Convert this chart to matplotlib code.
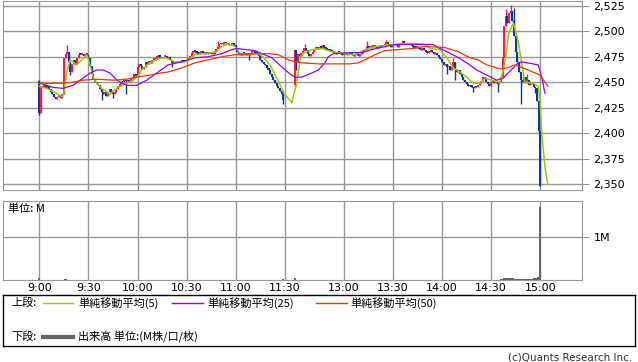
import numpy as np
import matplotlib.pyplot as plt
from matplotlib.lines import Line2D

# minute index: 9:00 = 0, 11:30 = 150, 12:30 = 156, 15:00 = 306
tick_pos = [0, 30, 60, 90, 120, 150, 186, 216, 246, 276, 306]
tick_labels = ['9:00', '9:30', '10:00', '10:30', '11:00', '11:30',
               '13:00', '13:30', '14:00', '14:30', '15:00']

price_ticks = [2350, 2375, 2400, 2425, 2450, 2475, 2500, 2525]

# morning session closes (9:00 - 11:29)
am_open0 = 2451
am_close = [2420, 2446, 2445, 2447, 2444, 2446, 2443, 2440, 2438, 2436,
            2434, 2436, 2437, 2435, 2438, 2474, 2478, 2480, 2470, 2460,
            2468, 2472, 2468, 2474, 2477, 2477, 2478, 2476, 2478, 2477,
            2474, 2466, 2458, 2453, 2450, 2448, 2447, 2443, 2440, 2438,
            2440, 2437, 2440, 2443, 2440, 2438, 2440, 2443, 2446, 2448,
            2450, 2450, 2452, 2451, 2452, 2450, 2453, 2455, 2458, 2456,
            2465, 2468, 2466, 2463, 2465, 2470, 2468, 2471, 2469, 2472,
            2474, 2473, 2476, 2475, 2475, 2474, 2475, 2476, 2474, 2475,
            2472, 2469, 2470, 2471, 2470, 2471, 2470, 2472, 2471, 2471,
            2472, 2474, 2476, 2479, 2481, 2480, 2479, 2478, 2479, 2480,
            2479, 2478, 2479, 2478, 2478, 2479, 2478, 2480, 2483, 2485,
            2487, 2488, 2487, 2489, 2488, 2487, 2486, 2487, 2488, 2486,
            2484, 2480, 2478, 2477, 2479, 2478, 2477, 2478, 2477, 2479,
            2480, 2481, 2479, 2478, 2476, 2472, 2470, 2468, 2467, 2464,
            2462, 2458, 2455, 2452, 2449, 2446, 2444, 2441, 2438, 2433]

# afternoon session closes (12:30 - 15:00)
pm_open0 = 2447
pm_close = [2482, 2470, 2478, 2476, 2479, 2481, 2484, 2482, 2478, 2476,
            2478, 2480, 2483, 2484, 2483, 2485, 2484, 2486, 2484, 2483,
            2482, 2481, 2482, 2480, 2479, 2478, 2480, 2479, 2478, 2477,
            2478, 2479, 2477, 2478, 2478, 2477, 2476, 2478, 2477, 2476,
            2478, 2479, 2481, 2482, 2485, 2484, 2485, 2484, 2486, 2485,
            2484, 2485, 2486, 2485, 2485, 2487, 2489, 2487, 2486, 2485,
            2486, 2487, 2486, 2485, 2487, 2488, 2490, 2488, 2487, 2488,
            2487, 2486, 2485, 2484, 2484, 2485, 2483, 2482, 2483, 2482,
            2480, 2479, 2480, 2481, 2480, 2478, 2479, 2477, 2475, 2473,
            2470, 2467, 2468, 2465, 2466, 2462, 2465, 2470, 2463, 2460,
            2462, 2458, 2455, 2452, 2450, 2448, 2446, 2447, 2445, 2444,
            2446, 2445, 2447, 2449, 2451, 2455, 2453, 2450, 2448, 2446,
            2450, 2452, 2449, 2450, 2448, 2450, 2455, 2475, 2505, 2515,
            2508, 2518, 2520, 2510, 2495, 2480, 2470, 2460, 2452, 2450,
            2455, 2449, 2452, 2447, 2449, 2448, 2445, 2444, 2432, 2402,
            2348]

# wicks beyond the candle body
high_wick_min = [0, 17, 109, 162, 200, 212, 253, 285, 288, 290, 298]
high_wick_val = [2452, 2486, 2490, 2487, 2490, 2491, 2474, 2522, 2526, 2523, 2458]
low_wick_min = [0, 19, 38, 45, 53, 81, 128, 149, 156, 157, 249, 254, 265, 280, 294, 303]
low_wick_val = [2418, 2457, 2433, 2435, 2438, 2465, 2472, 2429, 2445, 2462,
                2458, 2452, 2440, 2440, 2429, 2439]

# moving averages (minute, price)
ma5_min = [0, 4.5, 9.6, 13.7, 14.7, 16.7, 18.8, 22.8, 25.9, 29, 31, 33, 35.1,
           38.1, 43.2, 45, 48.1, 53.4, 57.4, 60.5, 63.5, 67.6, 72.7, 76.8,
           82.9, 89, 95.1, 101.2, 108.4, 111.4, 115.5, 119.5, 122.6, 127.5,
           133.6, 136.7, 140.9, 145.8, 148.9, 151.1, 154.2, 157.2, 159.3,
           161.1, 166.4, 172.5, 178.6, 186.7, 192.9, 199, 205.1, 211.2, 217.3,
           223.4, 229.5, 235.6, 238.7, 244.8, 248.9, 252.9, 257, 261.1, 265.1,
           269.2, 272.3, 276.4, 281.4, 283.4, 285.5, 286.5, 289.6, 292.6,
           294.7, 296.7, 301.8, 304.8, 305.9, 306.9, 308.9, 310.6]
ma5_val = [2446, 2444, 2440, 2436, 2437, 2459, 2472, 2467, 2472, 2477, 2467,
           2454, 2449, 2444, 2438, 2441, 2445, 2449, 2452, 2457, 2464, 2469,
           2473, 2474, 2470, 2470, 2477, 2478, 2480, 2485, 2488, 2485, 2478,
           2477, 2478, 2475, 2467, 2452, 2441, 2436, 2430, 2449, 2472, 2478,
           2482, 2483, 2480, 2478, 2477, 2482, 2485, 2486, 2487, 2488, 2488,
           2487, 2483, 2482, 2474, 2464, 2460, 2455, 2449, 2449, 2454, 2452,
           2450, 2462, 2480, 2497, 2508, 2490, 2468, 2450, 2449, 2446, 2433,
           2400, 2367, 2350]

ma25_min = [0.4, 8.4, 14.5, 20.6, 24.9, 31, 35.1, 38.9, 43.2, 47.3, 53.4,
            59.5, 65.6, 71.7, 78.6, 87, 95.1, 103.2, 111.4, 117.5, 120.6,
            131.8, 135.9, 142, 148.1, 153.2, 156.2, 160.3, 166.4, 170.4, 174.5,
            176.5, 179.6, 190.8, 196.9, 203, 211.2, 217.3, 235.6, 240.5, 244.8,
            248.9, 255, 261.1, 267.2, 273.3, 279.4, 283.4, 287.5, 292.6, 294.7,
            304.8, 306.9, 308.9]
ma25_val = [2449, 2445, 2444, 2447, 2452, 2459, 2462, 2462, 2459, 2452, 2447,
            2447, 2452, 2459, 2467, 2470, 2474, 2475, 2478, 2482, 2483, 2481,
            2478, 2474, 2465, 2458, 2455, 2455, 2459, 2462, 2469, 2475, 2478,
            2479, 2479, 2482, 2485, 2487, 2487, 2487, 2483, 2480, 2475, 2469,
            2462, 2457, 2452, 2454, 2461, 2469, 2470, 2467, 2455, 2439]

ma50_min = [0, 14.5, 20.6, 26.7, 35.1, 45, 53.4, 59.5, 67.6, 73.7, 78.6, 87,
            95.1, 103.2, 111.4, 119.5, 125.6, 131.8, 139.9, 146, 152.1, 156.2,
            160.3, 170.4, 189.6, 194.9, 199, 205.1, 211, 219.3, 227.5, 235.6,
            247.6, 255.8, 263.1, 268, 273.3, 281.4, 285.5, 290.4, 295.5, 301.6,
            305.9, 308.9, 310.8]
ma50_val = [2449, 2449, 2450, 2452, 2453, 2452, 2453, 2455, 2457, 2459, 2460,
            2464, 2469, 2472, 2475, 2477, 2477, 2478, 2478, 2477, 2472, 2470,
            2469, 2468, 2468, 2469, 2472, 2477, 2481, 2482, 2483, 2485, 2484,
            2480, 2474, 2472, 2467, 2463, 2464, 2467, 2464, 2460, 2457, 2450,
            2446]

# volume (millions)
vol_min = [0, 16, 149, 156] + list(range(282, 307))
vol_val = [0.04, 0.02, 0.03, 0.04,
           0.02, 0.02, 0.05, 0.05, 0.04, 0.05, 0.05, 0.04, 0.03, 0.02,
           0.02, 0.03, 0.03, 0.03, 0.03, 0.03, 0.02, 0.02, 0.02, 0.03,
           0.04, 0.05, 0.05, 0.06, 1.68]

RED = '#ff1a4a'
BLUE = '#0a3ca0'
GRID = '#999999'
JP = ['Noto Sans CJK JP', 'DejaVu Sans']

W, H = 638, 362
fig = plt.figure(figsize=(W / 100, H / 100), dpi=100)


def px_axes(x0, y0, x1, y1):
    return fig.add_axes([x0 / W, 1 - y1 / H, (x1 - x0) / W, (y1 - y0) / H])


# candles
minutes = np.array(list(range(0, 150)) + list(range(156, 307)))
closes = np.array(am_close + pm_close, dtype=float)
opens = np.array([am_open0] + am_close[:-1] + [pm_open0] + pm_close[:-1], dtype=float)
highs = np.maximum(opens, closes)
lows = np.minimum(opens, closes)
for m, v in zip(high_wick_min, high_wick_val):
    i = np.where(minutes == m)[0][0]
    highs[i] = max(highs[i], v)
for m, v in zip(low_wick_min, low_wick_val):
    i = np.where(minutes == m)[0][0]
    lows[i] = min(lows[i], v)
cols = [RED if c > o else BLUE for o, c in zip(opens, closes)]

ax = px_axes(3, 1, 582.3, 190)
ax.vlines(minutes, lows, highs, colors=cols, lw=1.0, zorder=3)
ax.bar(minutes, np.maximum(np.abs(closes - opens), 1.2), bottom=np.minimum(opens, closes),
       width=1.25, color=cols, linewidth=0, zorder=3)
ax.plot(ma5_min, ma5_val, color='#99cc00', lw=1.1, zorder=4)
ax.plot(ma25_min, ma25_val, color='#9900ff', lw=0.9, zorder=4)
ax.plot(ma50_min, ma50_val, color='#ff3300', lw=0.9, zorder=4)

ax.set_xlim(-22.2, 331.7)
ax.set_ylim(2344.4, 2529.6)
ax.set_xticks(tick_pos)
ax.set_xticklabels([])
ax.set_yticks(price_ticks)
ax.set_yticklabels([f'{p:,}' for p in price_ticks])
ax.grid(True, color=GRID, lw=1)
ax.set_axisbelow(True)
ax.tick_params(axis='x', length=0)
ax.tick_params(axis='y', left=False, right=True, labelleft=False, labelright=True,
               length=5, color=GRID, labelsize=8, pad=3)
for s in ax.spines.values():
    s.set_color(GRID)

# volume panel
ax2 = px_axes(3, 201, 582.3, 280)
ax2.bar(vol_min, vol_val, width=1.4, color='#666666', linewidth=0, zorder=3)
ax2.set_xlim(-22.2, 331.7)
ax2.set_ylim(0, 1.824)
ax2.set_xticks(tick_pos)
ax2.set_xticklabels(tick_labels)
ax2.set_yticks([1.0])
ax2.set_yticklabels(['1M'])
ax2.grid(True, color=GRID, lw=1)
ax2.set_axisbelow(True)
ax2.tick_params(axis='x', length=0, labelsize=8, pad=2)
ax2.tick_params(axis='y', left=False, right=True, labelleft=False, labelright=True,
                length=5, color=GRID, labelsize=8, pad=3)
for s in ax2.spines.values():
    s.set_color(GRID)
fig.text(8 / W, 1 - 209 / H, '単位: M', fontsize=8, family=JP, va='center')

# legend box
lg = px_axes(3.3, 295.3, 635, 346.3)
lg.set_xlim(3.3, 635)
lg.set_ylim(346.3, 295.3)
lg.set_xticks([])
lg.set_yticks([])
for s in lg.spines.values():
    s.set_color('black')
    s.set_linewidth(1)
lg.text(11, 303, '上段:', fontsize=8, family=JP, va='center')
lg.add_line(Line2D([43, 73], [303, 303], color='#99cc00', lw=1))
lg.text(78, 303, '単純移動平均(5)', fontsize=8, family=JP, va='center')
lg.add_line(Line2D([172, 203], [303, 303], color='#9900ff', lw=1))
lg.text(207, 303, '単純移動平均(25)', fontsize=8, family=JP, va='center')
lg.add_line(Line2D([316, 347], [303, 303], color='#ff3300', lw=1))
lg.text(350, 303, '単純移動平均(50)', fontsize=8, family=JP, va='center')
lg.text(11, 337, '下段:', fontsize=8, family=JP, va='center')
lg.add_line(Line2D([43, 73], [337, 337], color='#666666', lw=3))
lg.text(78, 337, '出来高 単位:(M株/口/枚)', fontsize=8, family=JP, va='center')

fig.text(632 / W, 1 - 357 / H, '(c)Quants Research Inc.', ha='right', va='center',
         fontsize=7.5, color='#333333')

fig.savefig('out.png', dpi=100)
